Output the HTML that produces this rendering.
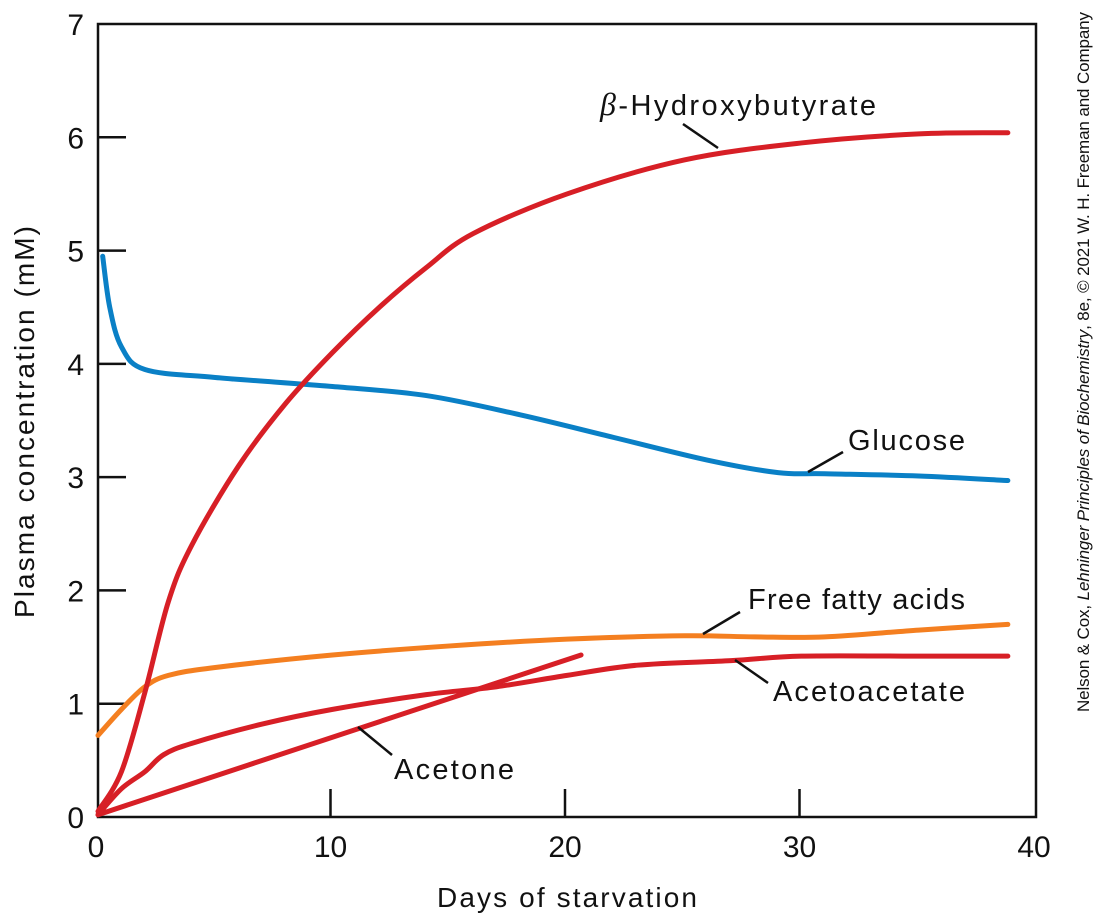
<!DOCTYPE html>
<html><head><meta charset="utf-8"><style>
body{margin:0;background:#fff}
svg{display:block;font-family:"Liberation Sans",sans-serif}
</style></head><body>
<svg id="chart" width="1094" height="924" viewBox="0 0 1094 924">
<g id="axes"></g><g id="series"></g>
<g id="labels" font-size="29" fill="#111">
<text x="600" y="115" textLength="276"><tspan font-style="italic" font-family="Liberation Serif, serif" font-size="32">β</tspan>-Hydroxybutyrate</text>
<line x1="683" y1="124" x2="718" y2="148" stroke="#111" stroke-width="2.5"/>
<text x="848" y="450" textLength="117">Glucose</text>
<line x1="808" y1="472" x2="843" y2="452" stroke="#111" stroke-width="2.5"/>
<text x="748" y="609" textLength="217">Free fatty acids</text>
<line x1="703" y1="634" x2="740" y2="612" stroke="#111" stroke-width="2.5"/>
<text x="773" y="701" textLength="192">Acetoacetate</text>
<line x1="735" y1="660" x2="768" y2="683" stroke="#111" stroke-width="2.5"/>
<text x="394" y="779" textLength="120">Acetone</text>
<line x1="358" y1="727" x2="392" y2="755" stroke="#111" stroke-width="2.5"/>
</g>
<text x="437" y="907" font-size="28" textLength="260" fill="#111">Days of starvation</text>
<text transform="translate(34,618) rotate(-90)" font-size="28" textLength="392" fill="#111">Plasma concentration (mM)</text>
<text transform="translate(1089,712) rotate(-90)" font-size="17" textLength="700" fill="#111">Nelson &amp; Cox, <tspan font-style="italic">Lehninger Principles of Biochemistry</tspan>, 8e, © 2021 W. H. Freeman and Company</text>
</svg>
<script>
const xTicks=[0,10,20,30,40];
const yTicks=[0,1,2,3,4,5,6,7];
const bhbDays=[0,1,2,3,4,6,8,10,12,14,16,20,25,30,35,38.8];
const bhbVals=[0.05,0.4,1.1,1.9,2.4,3.1,3.65,4.1,4.5,4.85,5.15,5.5,5.8,5.95,6.03,6.04];
const gluDays=[0.2,0.5,1,2,5,10,14,18,22,26,29,31,35,38.8];
const gluVals=[4.95,4.5,4.15,3.95,3.88,3.8,3.72,3.55,3.35,3.15,3.04,3.03,3.01,2.97];
const ffaDays=[0,1,2,3,5,10,15,20,25,28,31,35,38.8];
const ffaVals=[0.72,0.95,1.15,1.25,1.32,1.43,1.51,1.57,1.6,1.59,1.59,1.65,1.7];
const acacDays=[0,1,2,2.8,4,7,10,14,17,20,23,27,30,35,38.8];
const acacVals=[0.02,0.25,0.4,0.55,0.65,0.82,0.95,1.08,1.15,1.25,1.34,1.38,1.42,1.42,1.42];
const acetDays=[0,20.6];
const acetVals=[0.02,1.43];

const X0=98,X1=1036,Y0=817,Y1=24;
const xs=d=>X0+d/40*(X1-X0);
const ys=v=>Y0-v/7*(Y0-Y1);
const NS='http://www.w3.org/2000/svg';
const axes=document.getElementById('axes'),ser=document.getElementById('series');
function mk(tag,attrs,parent){const e=document.createElementNS(NS,tag);for(const k in attrs)e.setAttribute(k,attrs[k]);parent.appendChild(e);return e;}
const frame=mk('rect',{x:X0,y:Y1,width:X1-X0,height:Y0-Y1,fill:'none',stroke:'#111','stroke-width':2.5},axes);


xTicks.forEach(t=>{
  if(t>0&&t<40){const l=mk('line',{x1:xs(t)-2,x2:xs(t)-2,y1:Y0,y2:Y0-28,stroke:'#111','stroke-width':2.5},axes);
  
  }
  const tx=mk('text',{x:xs(t)-2,y:857,'font-size':30,'text-anchor':'middle',fill:'#111'},axes);tx.textContent=t;
  
  
});
yTicks.forEach(t=>{
  if(t>0&&t<7){const l=mk('line',{x1:X0,x2:X0+28,y1:ys(t),y2:ys(t),stroke:'#111','stroke-width':2.5},axes);
  
  }
  const tx=mk('text',{x:84,y:ys(t)+11,'font-size':30,'text-anchor':'end',fill:'#111'},axes);tx.textContent=t;
  
  
});
function smooth(days,vals){
  const p=days.map((d,i)=>[xs(d),ys(vals[i])]);
  if(p.length<3)return 'M'+p.map(q=>q.join(',')).join(' L');
  let s='M'+p[0][0]+','+p[0][1];
  for(let i=0;i<p.length-1;i++){
    const a=p[Math.max(0,i-1)],b=p[i],c=p[i+1],d=p[Math.min(p.length-1,i+2)];
    const c1=[b[0]+(c[0]-a[0])/6,b[1]+(c[1]-a[1])/6],c2=[c[0]-(d[0]-b[0])/6,c[1]-(d[1]-b[1])/6];
    s+=` C${c1[0]},${c1[1]} ${c2[0]},${c2[1]} ${c[0]},${c[1]}`;
  }
  return s;
}
function line(days,vals,color,name){
  const e=mk('path',{d:smooth(days,vals),fill:'none',stroke:color,'stroke-width':5,'stroke-linecap':'round','stroke-linejoin':'round'},ser);
  
  
}
line(ffaDays,ffaVals,'#f47f20','free-fatty-acids-line');
line(gluDays,gluVals,'#0a80c6','glucose-line');
line(acetDays,acetVals,'#d71f26','acetone-line');
line(acacDays,acacVals,'#d71f26','acetoacetate-line');
line(bhbDays,bhbVals,'#d71f26','beta-hydroxybutyrate-line');
</script>
</body></html>
